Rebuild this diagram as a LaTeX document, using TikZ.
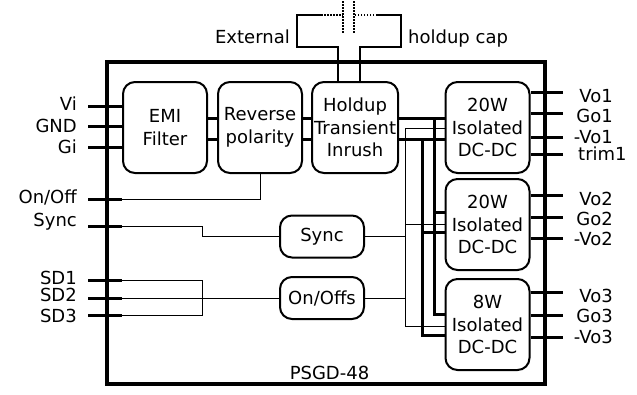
\documentclass[tikz,border=0pt]{standalone}
\usepackage{fontspec}
\setmainfont{DejaVu Sans}
\usetikzlibrary{positioning,calc}

\begin{document}
\begin{tikzpicture}[x=1pt,y=-1pt,font=\fontsize{18}{22.5}\selectfont,block/.style={draw,line width=2pt,rounded corners=12pt,minimum width=84pt,minimum height=91pt,inner sep=2pt,align=center},small block/.style={block,minimum height=42pt},pinline/.style={line width=3pt},bus/.style={line width=3pt},wire/.style={line width=1pt},lead/.style={line width=2.5pt},cap plate/.style={line width=1.5pt,dash pattern=on 1.5pt off 1.5pt},lbl/.style={inner sep=0pt}]

            \useasboundingbox (0,0) rectangle (637,394);

            \node[draw,line width=3.5pt,minimum width=438pt,minimum height=322pt,inner sep=0pt] (box) at (326,223) {};
            \node[lbl,anchor=base] (name) at (329.5,379) {PSGD-48};

            \node[block] (emi) at (165,127.5) {EMI\\Filter};
            \node[block] (rev) [right=9pt of emi] {Reverse\\polarity};
            \node[block] (hold) [right=8pt of rev] {Holdup\\Transient\\Inrush};

            \node[block] (dc1) at (487.5,127.5) {20W\\Isolated\\DC-DC};
            \node[block] (dc2) [below=4pt of dc1] {20W\\Isolated\\DC-DC};
            \node[block] (dc3) [below=7pt of dc2] {8W\\Isolated\\DC-DC};

            \node[small block] (sync) at (322,236.5) {Sync};
            \node[small block] (onoff) at (322,298) {On/Offs};

            \foreach \lbl/\py/\by [count=\i] in {Vi/106/110,GND/126/132,Gi/147/153,{On/Off}/199/203,Sync/226/226,SD1/280/284,SD2/298/301,SD3/315/322}{
                \coordinate (in\i) at (88,\py);
                \node[lbl,anchor=base east] (lin\i) at (77,\by) {\lbl};
                \draw[pinline] (in\i) -- (in\i -| emi.west);
            }

            \foreach \lbl/\py/\by/\side/\lx [count=\i] in {Vo1/92/102/east/613,Go1/113/122/east/613,-Vo1/137/143/east/613,trim1/154/160/west/578,Vo2/195/205/east/613,Go2/217/225/east/613,-Vo2/238/245/east/613,Vo3/292/302/east/613,Go3/315/322/east/613,-Vo3/337/343/east/613}{
                \coordinate (out\i) at (563,\py);
                \node[lbl,anchor=base \side] (lout\i) at (\lx,\by) {\lbl};
                \draw[pinline] (dc1.east |- out\i) -- (out\i);
            }

            \coordinate (jx) at (202,0);
            \draw[wire] (in4 -| emi.west) -| (rev.south);
            \draw[wire] (in5 -| emi.west) -| (jx |- sync) -- (sync.west);
            \draw[wire] (in6 -| emi.west) -| (jx |- in8) -- (in8 -| emi.west);
            \draw[wire] (in7 -| emi.west) -- (onoff.west);

            \coordinate (pa) at (434,118.5);
            \coordinate (pb) at (422,139);
            \coordinate (cc) at (405,128);

            \draw[bus] (emi.east |- pa) -- (rev.west |- pa);
            \draw[bus] (emi.east |- pb) -- (rev.west |- pb);
            \draw[bus] (rev.east |- pa) -- (hold.west |- pa);
            \draw[bus] (rev.east |- pb) -- (hold.west |- pb);
            \draw[bus] (hold.east |- pa) -- (dc1.west |- pa);
            \draw[bus] (hold.east |- pb) -- (dc1.west |- pb);
            \draw[wire] (cc) -- (dc1.west |- cc);

            \foreach \blk/\ya/\yc/\yb in {dc2/212/224/232,dc3/314/326/335}{
                \draw[bus] (pa) |- (\blk.west |- 0,\ya);
                \draw[bus] (pb) |- (\blk.west |- 0,\yb);
                \draw[wire] (cc) |- (\blk.west |- 0,\yc);
            }

            \draw[wire] (sync.east) -- (cc |- sync.east);
            \draw[wire] (onoff.east) -- (cc |- onoff.east);

            \coordinate (tl) at (338,47);
            \coordinate (tr) at (360,47);
            \coordinate (el) at (297,15);
            \coordinate (er) at (401,15);
            \coordinate (sl) at (321,15);
            \coordinate (sr) at (377,15);
            \coordinate (pl) at (343,15);
            \coordinate (pr) at (354,15);

            \draw[lead] (hold.north -| tl) -- (tl) -| (el) -- (sl);
            \draw[lead] (hold.north -| tr) -- (tr) -| (er) -- (sr);
            \draw[cap plate] (sl) -- (pl);
            \draw[cap plate] (sr) -- (pr);
            \draw[cap plate] (pl |- 0,1) -- (pl |- 0,33);
            \draw[cap plate] (pr |- 0,1) -- (pr |- 0,33);

            \node[lbl,anchor=base east] (ext) at (290,43) {External};
            \node[lbl,anchor=base west] (hcap) at (408,43) {holdup cap};

\end{tikzpicture}
\end{document}
